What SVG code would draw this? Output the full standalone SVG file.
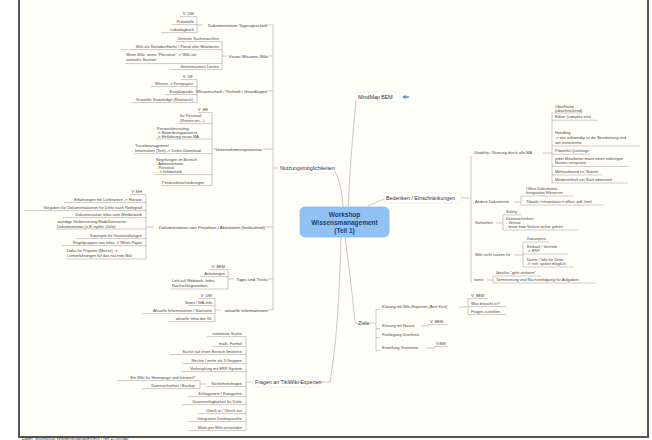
<svg xmlns="http://www.w3.org/2000/svg" width="652" height="440" viewBox="0 0 652 440">
<style>
.t{font-family:"Liberation Sans",Arial,sans-serif;fill:#474747}
.l{font-size:3.95px}
.s{font-size:4.4px;fill:#404040}
.m{font-size:5.3px;fill:#333}
.e{text-anchor:end}
.u{stroke:#999;stroke-width:.5;fill:none}
.k{stroke:#a4a4a4;stroke-width:.6;fill:none}
.c{font-family:"Liberation Sans",Arial,sans-serif;font-size:6.5px;font-weight:bold;fill:#24406e;text-anchor:middle}
.bx{fill:#fff;stroke:#e2e2e2;stroke-width:.5}
</style>
<rect x="0" y="0" width="652" height="440" fill="#fff"/>
<rect x="19" y="-2" width="629" height="439" fill="#fffef7" stroke="#555" stroke-width="2"/>
<text class="t" x="22" y="440" font-size="4.5px" fill="#888">Datei: Workshop Wissensmanagement (Teil 1).mmap</text>

<g id="connectors">
<path class="k" d="M343 207 Q341 178 334 170"/>
<path class="k" d="M348 207 Q351 150 356 101"/>
<path class="k" d="M368 206 L384 199"/>
<path class="k" d="M345 237 Q352 290 355 322"/>
<path class="k" d="M341 237 Q339 330 330 382"/>
<path class="k" d="M273 25 V310 M273 168 H278"/>
<path class="k" d="M267 25 H273 M268 56 H273 M267 91 H273 M263 149 H273 M265 227 H273 M268 279 H273 M268 310 H273"/>
<path class="k" d="M318 382 H330 M246 336.6 V430.6 M246 382 H253 M200 380.6 V388.6 M200 384 H206"/>
<path class="k" d="M461 198 H471 M471 155.6 V282.6"/>
<path class="k" d="M543 153 H552 M552 113 V183 M514 202 H521 M521 196 V205 M496 223 H503 M503 215 V230 M514 255 H523 M523 242 V267 M487 280 H493 M493 276 V283"/>
<path class="k" d="M355 323 H358 M370 323 H376 M376 309.6 V350.6"/>
<path class="k" d="M459 307 H468 M468 298.6 V314.6 M421 326 H428 M426 348 H434"/>
</g>

<g id="center">
<rect x="300" y="207" width="89" height="30" rx="5" fill="#90c3f3" stroke="#79afe6" stroke-width=".6"/>
<text class="c" x="344.5" y="216.8">Workshop</text>
<text class="c" x="344.5" y="224.8">Wissensmanagement</text>
<text class="c" x="344.5" y="232.8">(Teil 1)</text>
</g>

<g id="nutzung">
<rect class="bx" x="278" y="163" width="57" height="10" rx="2"/>
<text class="t m" x="280" y="170">Nutzungsmöglichkeiten</text>
</g>

<g id="doku-tages">
<text class="t s e" x="267" y="26.6">Dokumentation Tagesgeschäft</text>
<path class="k" d="M197 25 H203 M197 16.6 V32.6"/>
<text class="t l e" x="194" y="15.4">V: DW</text>
<text class="t l e" x="194" y="23.4">Protokolle</text>
<text class="t l e" x="194" y="31.4">Laborlogbuch</text>
<path class="u" d="M180 16.6 H197 M172 24.6 H197 M161 32.6 H197"/>
</g>

<g id="vision">
<text class="t s e" x="268" y="57.6">Vision Wissens-Wiki</text>
<path class="k" d="M222 56 H227 M222 41.6 V69.6"/>
<text class="t l e" x="219" y="40.4">Zentrale Suchmaschine</text>
<text class="t l e" x="219" y="48.4">Wiki als Startoberfläche / Portal aller Mitarbeiter</text>
<text class="t l" x="126" y="56.4">Wenn Wiki, wenn "Fliesstext" -&gt; Wiki als<tspan x="126" dy="4.8">zentraler Suchort</tspan></text>
<text class="t l e" x="219" y="68.4">Gemeinsames Lernen</text>
<path class="u" d="M176 41.6 H222 M121 49.6 H222 M125 63.6 H222 M171 69.6 H222"/>
</g>

<g id="wissenschaft">
<text class="t s e" x="267" y="92.6">Wissenschaft / Technik / Grundlagen</text>
<path class="k" d="M197 91 H201 M197 79.6 V102.6"/>
<text class="t l e" x="193" y="78.4">V: GF</text>
<text class="t l e" x="193" y="85.4">Wissen -&gt; Kernpapier</text>
<text class="t l e" x="193" y="93.4">Enzyklopädie</text>
<text class="t l e" x="193" y="101.4">Scientific Knowledge (Research)</text>
<path class="u" d="M181 79.6 H197 M151 86.6 H197 M165 94.6 H197 M131 102.6 H197"/>
</g>

<g id="unternehmen">
<text class="t s e" x="262" y="150.6">Unternehmensprozesse</text>
<path class="k" d="M212 149 H217 M212 112.6 V185.6"/>
<text class="t l e" x="208" y="111.4">V: HB</text>
<text class="t l" x="180" y="117.4">für Personal<tspan x="180" dy="4.6">(Reisen etc...)</tspan></text>
<text class="t l" x="157" y="129.9">Personalrecruiting<tspan x="157" dy="3.9">-&gt;  Bewerbungsprozess</tspan><tspan x="157" dy="3.9">-&gt; Einführung neuer MA</tspan></text>
<text class="t l" x="135" y="147.4">Travelmanagement<tspan x="135" dy="4.6">Information (Text) -&gt; Daten-Download</tspan></text>
<text class="t l" x="156" y="160.9">Regelungen im Bereich<tspan x="156" dy="4">- Administration</tspan><tspan x="156" dy="4">- Personal</tspan><tspan x="156" dy="4">- -&gt; Infobetrieb</tspan></text>
<text class="t l" x="162" y="184.4">Prozessbeschreibungen</text>
<path class="u" d="M198 112.6 H212 M179 123.6 H212 M156 139 H212 M134 153.6 H212 M155 174.6 H212 M161 185.6 H212"/>
</g>

<g id="projekte">
<text class="t s e" x="265" y="228.6">Dokumentation von Projekten / Aktivitäten (fortlaufend)</text>
<path class="k" d="M146 227 H154 M146 194.6 V259"/>
<text class="t l e" x="142" y="193.4">V: MH</text>
<text class="t l e" x="142" y="201.4">Erfahrungen mit Lieferanten -&gt; Historie</text>
<text class="t l e" x="142" y="209.4">Vorgaben für Dokumentationen für Dritte nach Reifegrad</text>
<text class="t l e" x="142" y="216.4">Dokumentation Infos vom Wettbewerb</text>
<text class="t l" x="57" y="222.9">ständige Verbesserung Modellversuche -<tspan x="57" dy="4.8">Dokumentation (z.B. zyklin. Ziele)</tspan></text>
<text class="t l e" x="142" y="237.4">Konzepte für Veranstaltungen</text>
<text class="t l e" x="142" y="244.4">Regelgruppen von Infos -&gt; White Paper</text>
<text class="t l" x="67" y="252.4">Doku für Projekte (Messe) -&gt;<tspan x="67" dy="5">Lernerfahrungen für das nächste Mal</tspan></text>
<path class="u" d="M130 194.6 H146 M64 202.6 H146 M24 210.6 H146 M62 217.6 H146 M56 229 H146 M76 238.6 H146 M61 245.6 H146 M66 259 H146"/>
</g>

<g id="tipps">
<text class="t s e" x="268" y="280.6">Tipps und Tricks</text>
<path class="k" d="M228 279 H234 M228 269.6 V289"/>
<text class="t l e" x="225" y="268.4">V: BEM</text>
<text class="t l e" x="225" y="275.4">Anleitungen</text>
<text class="t l" x="172" y="282.4">Link auf Webtools, Infos,<tspan x="172" dy="4.8">Nachschlagewerken</tspan></text>
<path class="u" d="M210 269.6 H228 M200 276.6 H228 M171 289 H228"/>
</g>

<g id="aktuell">
<text class="t s e" x="268" y="311.6">aktuelle Informationen</text>
<path class="k" d="M215 310 H221 M215 298.6 V321.6"/>
<text class="t l e" x="212" y="297.4">V: DW</text>
<text class="t l e" x="212" y="304.4">News / MA-Info</text>
<text class="t l e" x="212" y="312.4">Aktuelle Informationen / Startseite</text>
<text class="t l e" x="212" y="320.4">aktuelle Infos der GL</text>
<path class="u" d="M198 298.6 H215 M188 305.6 H215 M142 313.6 H215 M168 321.6 H215"/>
</g>

<g id="fragen">
<rect class="bx" x="253" y="377" width="66" height="10" rx="2"/>
<text class="t m" x="255" y="384">Fragen an TikiWiki-Experten</text>
<text class="t l e" x="242" y="335.4">erweiterte Suche</text>
<text class="t l e" x="242" y="345.4">math. Formel</text>
<text class="t l e" x="242" y="353.4">Suche auf einen Bereich limitieren</text>
<text class="t l e" x="242" y="362.4">Rechte / mehr als 3 Gruppen</text>
<text class="t l e" x="242" y="370.4">Verknüpfung mit ERP-System</text>
<text class="t l e" x="242" y="385.4">Sicherheitsfragen</text>
<text class="t l e" x="242" y="395.4">Schlagworte / Kategorien</text>
<text class="t l e" x="242" y="403.4">Datenverfügbarkeit für Dritte</text>
<text class="t l e" x="242" y="412.4">Check in / Check out</text>
<text class="t l e" x="242" y="420.4">Integration Desktopsuche</text>
<text class="t l e" x="242" y="429.4">Mails per Wiki versenden</text>
<path class="u" d="M207 336.6 H246 M212 346.6 H246 M170 354.6 H246 M182 363.6 H246 M181 371.6 H246 M206 386.6 H246 M188 396.6 H246 M182 404.6 H246 M198 413.6 H246 M188 421.6 H246 M188 430.6 H246"/>
<text class="t l e" x="195" y="379.4">Ein Wiki für Homepage und Intranet?</text>
<text class="t l e" x="195" y="387.4">Datensicherheit / Backup</text>
<path class="u" d="M117 380.6 H200 M142 388.6 H200"/>
</g>

<g id="mindmap-bem">
<rect class="bx" x="356" y="92" width="44" height="10" rx="2"/>
<text class="t m" x="358" y="99">MindMap BEM</text>
<path d="M402 97 L406 95 L406 96.2 L409 96.2 L409 97.8 L406 97.8 L406 99 Z" fill="#4a8fd8"/>
</g>

<g id="bedenken">
<rect class="bx" x="384" y="193" width="77" height="10" rx="2"/>
<text class="t m" x="386" y="200">Bedenken / Einschränkungen</text>
<text class="t l" x="474" y="154.4">Usability / Nutzung durch alle MA</text>
<text class="t l" x="555" y="108.4">Oberfläche<tspan x="555" dy="4">(abschreckend)</tspan></text>
<text class="t l" x="555" y="118.4">Editor (complex text)</text>
<text class="t l" x="555" y="134">Handling<tspan x="555" dy="4.8">-&gt; wie aufwendig ist die Bearbeitung und</tspan><tspan x="555" dy="4.8">wie zeitintensiv</tspan></text>
<text class="t l" x="555" y="152">Powerful Quicktags</text>
<text class="t l" x="555" y="160">jeder Mitarbeiter muss einen sofortigen<tspan x="555" dy="4.4">Nutzen verspüren</tspan></text>
<text class="t l" x="555" y="172.9">Mehraufwand vs. Nutzen</text>
<text class="t l" x="555" y="181.4">Mindestinhalt vor Start observed</text>
<path class="u" d="M552 113 H582 M552 120.2 H598 M552 146 H640 M552 154.2 H590 M552 166.4 H630 M552 175 H602 M552 183 H628"/>
<text class="t l" x="475" y="203.4">Andere Dokumente</text>
<text class="t l" x="526" y="190.4">Office Dokumente<tspan x="526" dy="4">Integration Fileserver</tspan></text>
<text class="t l" x="526" y="203.4">Tikiwiki &lt;&lt;translate&gt;&gt; office, pdf, html</text>
<path class="u" d="M521 196 H573 M521 205 H604"/>
<text class="t l" x="475" y="224.4">Sicherheit</text>
<text class="t l" x="506" y="213.4">Safety</text>
<text class="t l" x="506" y="220.4">Datensicherheit<tspan x="506" dy="4">- Verlust</tspan><tspan x="506" dy="4">- know how Verlust sicher gehört</tspan></text>
<path class="u" d="M503 215 H521 M503 230 H578"/>
<text class="t l" x="475" y="256.4">Wiki nicht nutzen für</text>
<text class="t l" x="527" y="240.4">Konzepten</text>
<text class="t l" x="527" y="248.4">Einkauf / Vertrieb<tspan x="527" dy="4">-&gt; ERP</tspan></text>
<text class="t l" x="527" y="261.4">Daten / Info für Dritte<tspan x="527" dy="4">-&gt; evtl. später möglich</tspan></text>
<path class="u" d="M523 242 H549 M523 254 H568 M523 267 H574"/>
<text class="t l" x="474" y="281.4">sonst</text>
<text class="t l" x="496" y="274.4">Idealtur "geht verloren"</text>
<text class="t l" x="496" y="281.4">Terminierung und Nachverfolgung für Aufgaben</text>
<path class="u" d="M493 276 H541 M493 283 H596"/>
</g>

<g id="ziele">
<text class="t m" x="358" y="325">Ziele</text>
<text class="t l" x="382" y="308.4">Klärung mit Wiki-Experten (Axel Kick)</text>
<text class="t l" x="471" y="297.4">V: BEM</text>
<text class="t l" x="471" y="305.4">Was braucht er?</text>
<text class="t l" x="471" y="313.4">Fragen zustellen</text>
<path class="u" d="M468 298.6 H488 M468 306.6 H506 M468 314.6 H506"/>
<text class="t l" x="382" y="327.4">Klärung mit Nauen</text>
<text class="t l" x="430" y="323.4">V: BEM</text>
<path class="u" d="M428 326 V324.6 H448"/>
<text class="t l" x="382" y="336.4">Festlegung Userkreis</text>
<text class="t l" x="382" y="349.4">Erstellung Testseiten</text>
<text class="t l" x="436" y="345.4">V:BM</text>
<path class="u" d="M434 348 V346.6 H448"/>
<path class="k" d="M376 309.6 H380 M376 328.6 H380 M376 337.6 H380 M376 350.6 H380"/>
</g>
</svg>
